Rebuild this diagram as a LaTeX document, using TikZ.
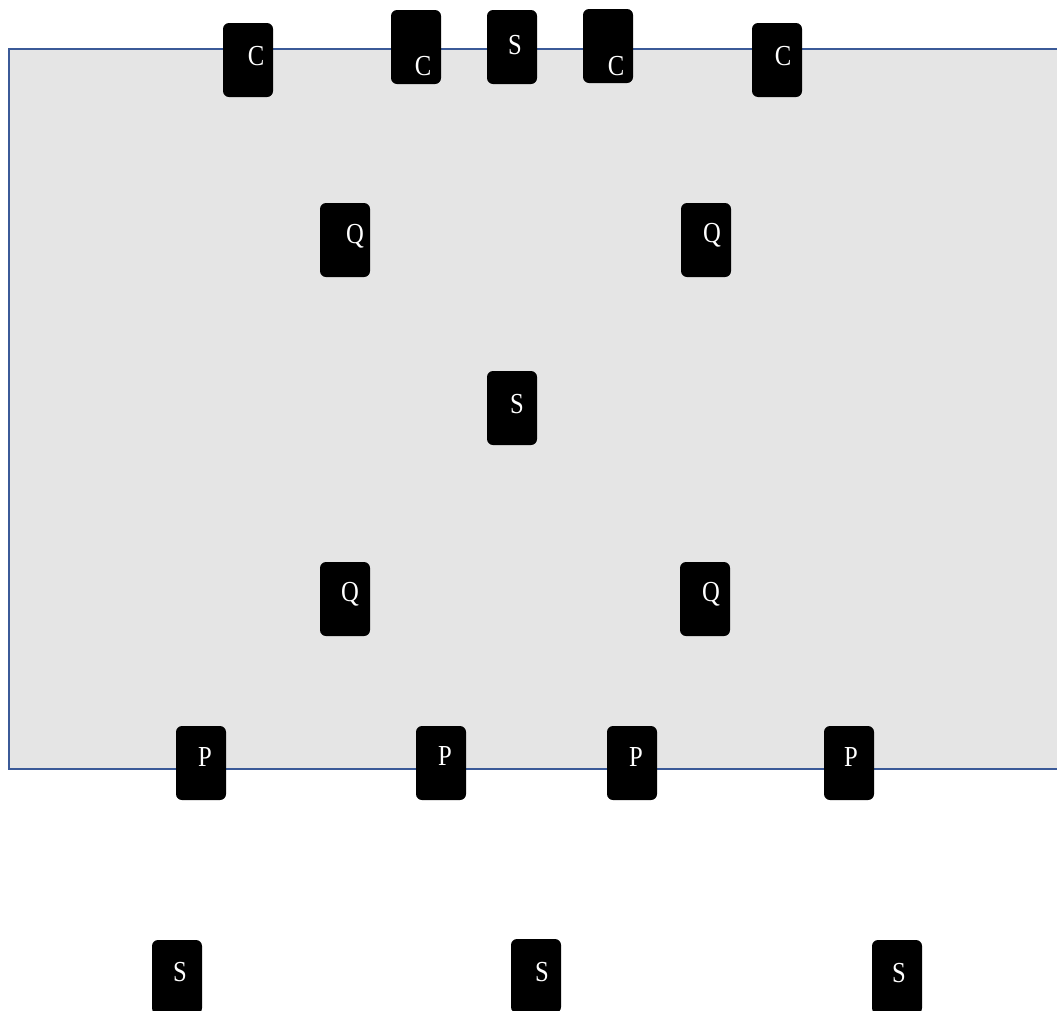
\documentclass[tikz,border=0pt]{standalone}
\usepackage{fontspec}
\setmainfont{Liberation Serif}
\newfontfamily\chipfont[FakeStretch=0.85]{Liberation Serif}
\definecolor{frameblue}{HTML}{3B5A98}
\definecolor{panelgray}{HTML}{E5E5E5}
\begin{document}
\begin{tikzpicture}[x=1pt,y=-1pt,
  chip/.style={fill=black,draw=none,rounded corners=6pt,minimum width=50pt,minimum height=74pt,inner sep=0pt},
  lbl/.style={text=white,font=\chipfont\fontsize{29}{29}\selectfont,inner sep=0pt}]
\useasboundingbox (0,0) rectangle (1057,1010);
\clip (0,0) rectangle (1057,1010);
\node[fill=panelgray,draw=frameblue,line width=2.4pt,minimum width=1080pt,minimum height=720pt,anchor=north west,inner sep=0pt] (panel) at (8,48) {};
% top row
\node[chip] (c1) at (248,60) {}; \node[lbl] (tc1) at (256,56) {C};
\node[chip] (c2) at (416,47) {}; \node[lbl] (tc2) at (423,66) {C};
\node[chip] (s1) at (512,47) {}; \node[lbl] (ts1) at (515,45) {S};
\node[chip] (c3) at (608,46) {}; \node[lbl] (tc3) at (616,66) {C};
\node[chip] (c4) at (777,60) {}; \node[lbl] (tc4) at (783,56) {C};
% Q and S
\node[chip] (q1) at (345,240) {}; \node[lbl] (tq1) at (355,236) {Q};
\node[chip] (q2) at (706,240) {}; \node[lbl] (tq2) at (712,235) {Q};
\node[chip] (s2) at (512,408) {}; \node[lbl] (ts2) at (517,404) {S};
\node[chip] (q3) at (345,599) {}; \node[lbl] (tq3) at (350,594) {Q};
\node[chip] (q4) at (705,599) {}; \node[lbl] (tq4) at (711,594) {Q};
% P row
\node[chip] (p1) at (201,763) {}; \node[lbl] (tp1) at (205,757) {P};
\node[chip] (p2) at (441,763) {}; \node[lbl] (tp2) at (445,756) {P};
\node[chip] (p3) at (632,763) {}; \node[lbl] (tp3) at (636,757) {P};
\node[chip] (p4) at (849,763) {}; \node[lbl] (tp4) at (851,757) {P};
% bottom row
\node[chip] (s3) at (177,977) {}; \node[lbl] (ts3) at (180,972) {S};
\node[chip] (s4) at (536,976) {}; \node[lbl] (ts4) at (542,972) {S};
\node[chip] (s5) at (897,977) {}; \node[lbl] (ts5) at (899,973) {S};
\end{tikzpicture}
\end{document}
